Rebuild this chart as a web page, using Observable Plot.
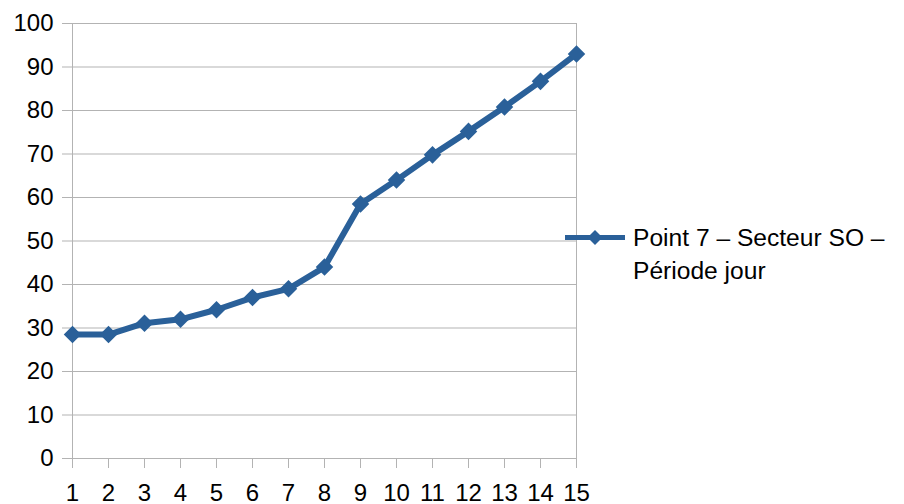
<!DOCTYPE html>
<html>
<head>
<meta charset="utf-8">
<script src="https://cdn.jsdelivr.net/npm/d3@7"></script>
<script src="https://cdn.jsdelivr.net/npm/@observablehq/plot@0.6"></script>
<style>
  html, body { margin: 0; padding: 0; background: #fff; }
  #wrap { position: relative; width: 904px; height: 504px; font-family: "Liberation Sans", Arial, sans-serif; }
  #legend-swatch { position: absolute; left: 565px; top: 228px; }
  #legend-text { position: absolute; left: 633px; top: 221px; font-size: 24.6px; line-height: 33px; color: #000; white-space: nowrap; }
</style>
</head>
<body>
<div id="wrap"></div>
<script>
const categories = [1, 2, 3, 4, 5, 6, 7, 8, 9, 10, 11, 12, 13, 14, 15];
const values = [28.5, 28.5, 31.1, 32.0, 34.2, 37.0, 39.0, 44.0, 58.5, 64.0, 69.8, 75.2, 80.8, 86.7, 93.0];
const yTicks = [0, 10, 20, 30, 40, 50, 60, 70, 80, 90, 100];
const seriesLine1 = "Point 7 – Secteur SO –";
const seriesLine2 = "Période jour";

const lineColor = "#2a6099";
const gridColor = "#b3b3b3";

const data = categories.map((c, i) => ({x: c, y: values[i]}));

const diamond = {
  draw(context, size) {
    const h = Math.sqrt(size / 2);
    context.moveTo(0, -h);
    context.lineTo(h, 0);
    context.lineTo(0, h);
    context.lineTo(-h, 0);
    context.closePath();
  }
};

const chart = Plot.plot({
  width: 904,
  height: 504,
  marginLeft: 72,
  marginRight: 328,
  marginTop: 23,
  marginBottom: 46,
  style: {fontFamily: "'Liberation Sans', Arial, sans-serif", fontSize: "24px", color: "#000", background: "#fff"},
  x: {type: "linear", domain: [1, 15]},
  y: {domain: [0, 100]},
  marks: [
    Plot.gridY(yTicks, {stroke: gridColor, strokeOpacity: 1, strokeWidth: 1}),
    Plot.frame({stroke: gridColor, strokeWidth: 1}),
    Plot.axisY(yTicks, {tickSize: 10, tickPadding: 9, stroke: gridColor, strokeOpacity: 1, fill: "#000", fontSize: 24, label: null, tickFormat: d => d}),
    Plot.axisX(categories, {tickSize: 10, tickPadding: 15, stroke: gridColor, strokeOpacity: 1, fill: "#000", fontSize: 24, label: null, tickFormat: d => d}),
    Plot.line(data, {x: "x", y: "y", stroke: lineColor, strokeWidth: 6, strokeLinejoin: "round"}),
    Plot.dot(data, {x: "x", y: "y", symbol: diamond, r: 7, fill: lineColor, stroke: "none"})
  ]
});

const wrap = document.getElementById("wrap");
wrap.appendChild(chart);

// Legend
const sw = d3.create("svg").attr("id", "legend-swatch").attr("width", 60).attr("height", 20);
sw.append("line").attr("x1", 0).attr("x2", 60).attr("y1", 9.5).attr("y2", 9.5).attr("stroke", lineColor).attr("stroke-width", 5);
sw.append("path").attr("d", "M30,2 L37.5,9.5 L30,17 L22.5,9.5 Z").attr("fill", lineColor);
wrap.appendChild(sw.node());

const lt = document.createElement("div");
lt.id = "legend-text";
lt.appendChild(document.createTextNode(seriesLine1));
lt.appendChild(document.createElement("br"));
lt.appendChild(document.createTextNode(seriesLine2));
wrap.appendChild(lt);
</script>
</body>
</html>
